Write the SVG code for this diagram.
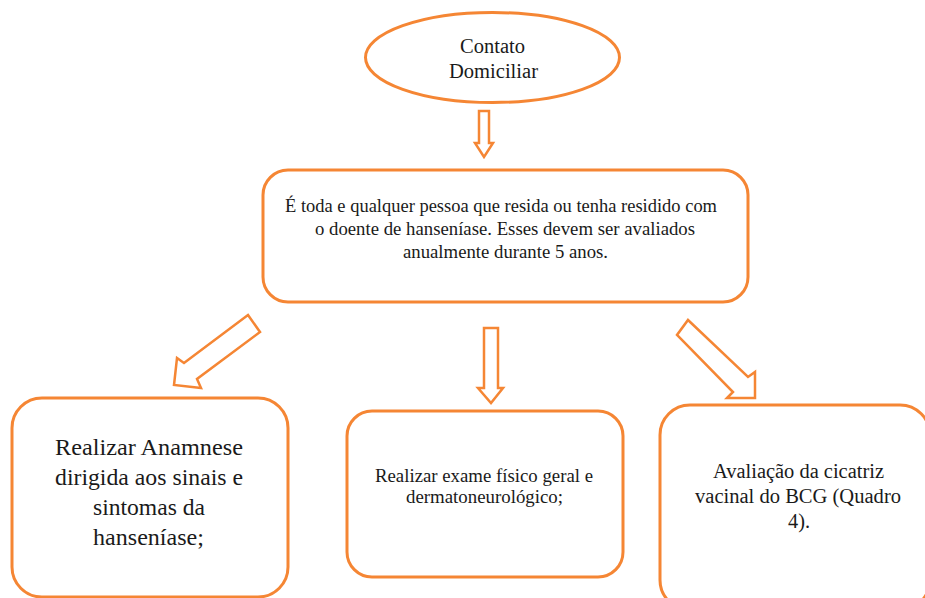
<svg xmlns="http://www.w3.org/2000/svg" width="925" height="598" viewBox="0 0 925 598">
<style>
.shape{fill:#ffffff;stroke:#f58634;stroke-width:3}
.arrow{fill:#ffffff;stroke:#f58634;stroke-width:2.5;stroke-linejoin:miter}
text{font-family:"Liberation Serif","Times New Roman",serif;fill:#1a1a1a;text-anchor:middle}
.t18{font-size:18px}
.t20{font-size:20px}
.t24{font-size:24px}
</style>
<rect width="925" height="598" fill="#ffffff"/>
<g id="connectors">
<polygon class="arrow" points="479,111 489,111 489,143 493,143 484,157 475,143 479,143"/>
<polygon class="arrow" points="484,328 498,328 498,388 503,388 491,403 478,388 484,388"/>
<polygon class="arrow" points="248,315 260,332 197,379 201,388 174,385 177,358 184,363"/>
<polygon class="arrow" points="688,320 748,377 755,372 755,398 727,398 733,392 677,335"/>
</g>
<g id="node-contato">
<ellipse class="shape" cx="492.5" cy="57.5" rx="127" ry="45"/>
<text class="t20" x="492.5" y="53" textLength="65" lengthAdjust="spacingAndGlyphs">Contato</text>
<text class="t20" x="493.5" y="78" textLength="89" lengthAdjust="spacingAndGlyphs">Domiciliar</text>
</g>
<g id="node-definicao">
<rect class="shape" x="263" y="170" width="485" height="132" rx="25"/>
<text class="t18" x="501" y="211.5" textLength="432" lengthAdjust="spacingAndGlyphs">É toda e qualquer pessoa que resida ou tenha residido com</text>
<text class="t18" x="505" y="235" textLength="380" lengthAdjust="spacingAndGlyphs">o doente de hanseníase. Esses devem ser avaliados</text>
<text class="t18" x="505.5" y="258" textLength="205" lengthAdjust="spacingAndGlyphs">anualmente durante 5 anos.</text>
</g>
<g id="node-anamnese">
<rect class="shape" x="12" y="398" width="276" height="199" rx="30"/>
<text class="t24" x="149" y="455" textLength="188" lengthAdjust="spacingAndGlyphs">Realizar Anamnese</text>
<text class="t24" x="149" y="485" textLength="188" lengthAdjust="spacingAndGlyphs">dirigida aos sinais e</text>
<text class="t24" x="149" y="515" textLength="112" lengthAdjust="spacingAndGlyphs">sintomas da</text>
<text class="t24" x="148.5" y="545" textLength="111" lengthAdjust="spacingAndGlyphs">hanseníase;</text>
</g>
<g id="node-exame">
<rect class="shape" x="347" y="411" width="276" height="166" rx="25"/>
<text class="t18" x="484" y="482" textLength="218" lengthAdjust="spacingAndGlyphs">Realizar exame físico geral e</text>
<text class="t18" x="484.5" y="503" textLength="157" lengthAdjust="spacingAndGlyphs">dermatoneurológico;</text>
</g>
<g id="node-bcg">
<rect class="shape" x="660" y="405" width="270" height="205" rx="30"/>
<text class="t20" x="798.5" y="478" textLength="171" lengthAdjust="spacingAndGlyphs">Avaliação da cicatriz</text>
<text class="t20" x="798" y="503" textLength="206" lengthAdjust="spacingAndGlyphs">vacinal do BCG (Quadro</text>
<text class="t20" x="799" y="528" textLength="22" lengthAdjust="spacingAndGlyphs">4).</text>
</g>
</svg>
